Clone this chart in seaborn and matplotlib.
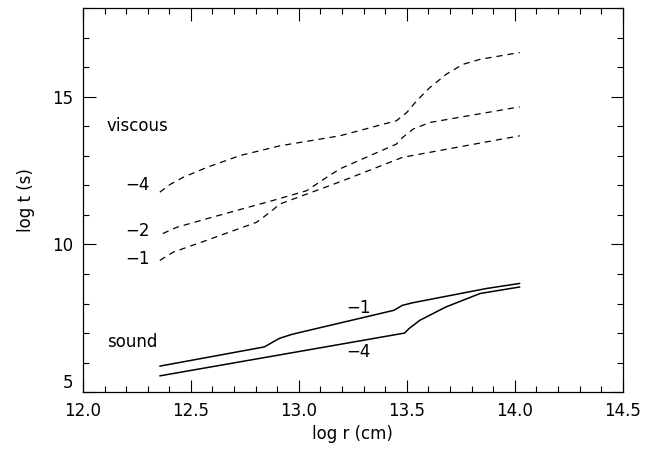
import numpy as np
import pandas as pd
import matplotlib
matplotlib.use("Agg")
import matplotlib.pyplot as plt
import seaborn as sns
from matplotlib.ticker import MultipleLocator

# viscous timescales (dashed), labelled by log alpha
visc_m4_r = [12.356, 12.403, 12.463, 12.574, 12.727, 12.912, 13.19, 13.452, 13.50, 13.545, 13.606, 13.684, 13.76, 13.84, 14.023]
visc_m4_t = [11.77, 12.03, 12.27, 12.61, 13.01, 13.34, 13.68, 14.19, 14.47, 14.86, 15.31, 15.77, 16.10, 16.27, 16.50]
visc_m2_r = [12.37, 12.434, 12.573, 12.88, 13.036, 13.128, 13.19, 13.452, 13.48, 13.53, 13.606, 14.023]
visc_m2_t = [10.37, 10.58, 10.87, 11.49, 11.82, 12.27, 12.56, 13.40, 13.62, 13.91, 14.13, 14.66]
visc_m1_r = [12.356, 12.418, 12.573, 12.804, 12.866, 12.912, 13.19, 13.48, 14.023]
visc_m1_t = [9.46, 9.74, 10.14, 10.75, 11.09, 11.37, 12.12, 12.95, 13.68]

# sound crossing timescales (solid)
snd_m1_r = [12.356, 12.84, 12.91, 12.97, 13.44, 13.48, 13.53, 13.87, 14.023]
snd_m1_t = [5.88, 6.53, 6.82, 6.96, 7.77, 7.94, 8.03, 8.51, 8.68]
snd_m4_r = [12.356, 13.49, 13.51, 13.56, 13.68, 13.84, 14.023]
snd_m4_t = [5.55, 7.00, 7.15, 7.43, 7.88, 8.34, 8.56]

sns.set_style("ticks")
plt.rcParams['font.family'] = ['DejaVu Sans']
plt.rcParams['text.color'] = 'black'
plt.rcParams['axes.labelcolor'] = 'black'
plt.rcParams['xtick.color'] = 'black'
plt.rcParams['ytick.color'] = 'black'

fig = plt.figure(figsize=(6.48, 4.57), dpi=100)
ax = fig.add_axes([0.128, 0.142, 0.833, 0.840])

for r, t in [(visc_m4_r, visc_m4_t), (visc_m2_r, visc_m2_t), (visc_m1_r, visc_m1_t)]:
    sns.lineplot(x=r, y=t, ax=ax, color="black", linewidth=0.9, sort=False,
                 linestyle=(0, (5, 4)))
for r, t in [(snd_m1_r, snd_m1_t), (snd_m4_r, snd_m4_t)]:
    sns.lineplot(x=r, y=t, ax=ax, color="black", linewidth=1.1, sort=False)

fs = 12
ax.text(12.11, 14.0, "viscous", fontsize=fs, va="center", ha="left")
ax.text(12.11, 6.7, "sound", fontsize=fs, va="center", ha="left")
ax.text(12.31, 12.03, "\u22124", fontsize=fs, va="center", ha="right")
ax.text(12.31, 10.47, "\u22122", fontsize=fs, va="center", ha="right")
ax.text(12.31, 9.52, "\u22121", fontsize=fs, va="center", ha="right")
ax.text(13.22, 7.85, "\u22121", fontsize=fs, va="center", ha="left")
ax.text(13.22, 6.35, "\u22124", fontsize=fs, va="center", ha="left")

ax.set_xlim(12.0, 14.5)
ax.set_ylim(5, 18)
ax.set_xticks([12.0, 12.5, 13.0, 13.5, 14.0, 14.5])
ax.set_xticklabels(["12.0", "12.5", "13.0", "13.5", "14.0", "14.5"])
ax.set_yticks([5, 10, 15])
ax.set_yticklabels(["5", "10", "15"])
ax.xaxis.set_minor_locator(MultipleLocator(0.1))
ax.yaxis.set_minor_locator(MultipleLocator(1))
ax.tick_params(which="both", direction="in", top=True, right=True,
               labelsize=fs, width=0.8, pad=7)
ax.tick_params(which="major", length=9)
ax.tick_params(which="minor", length=4)
# lowest y label sits just above the corner, as in the original
ax.yaxis.get_major_ticks()[0].label1.set_verticalalignment("bottom")
for s in ax.spines.values():
    s.set_linewidth(0.9)
    s.set_color("black")

ax.set_xlabel("log r (cm)", fontsize=fs)
ax.set_ylabel("log t (s)", fontsize=fs, labelpad=12)

fig.savefig("out.png", dpi=100)
